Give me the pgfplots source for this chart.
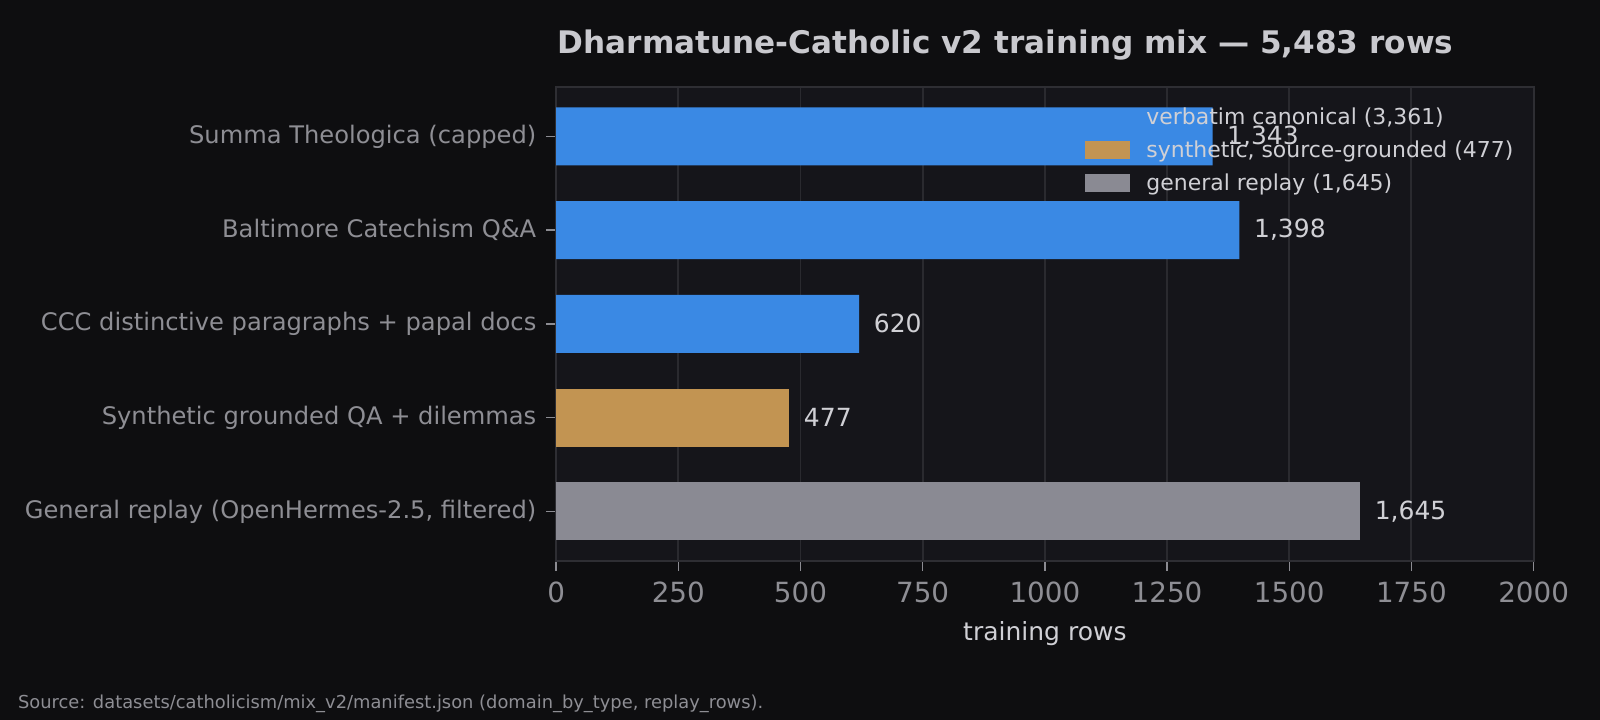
\documentclass[border=0pt]{standalone}
\usepackage{pgfplots}
\pgfplotsset{compat=1.18}
\usepackage{fontspec}
\setmainfont{DejaVu Sans}

\definecolor{figbg}{HTML}{0E0E10}
\definecolor{axbg}{HTML}{15151A}
\definecolor{gridc}{HTML}{2A2A2F}
\definecolor{spinec}{HTML}{2E2E33}
\definecolor{tickc}{HTML}{8C8C92}
\definecolor{ticklab}{HTML}{8E8E94}
\definecolor{valc}{HTML}{D0D0D5}
\definecolor{titlec}{HTML}{C9C9CE}
\definecolor{verbatim}{HTML}{3A89E4}
\definecolor{synth}{HTML}{C29452}
\definecolor{replay}{HTML}{8A8A93}

\begin{document}
\begin{tikzpicture}
% canvas
\useasboundingbox (0pt,0pt) rectangle (576pt,259.2pt);
\fill[figbg] (0pt,0pt) rectangle (576pt,259.2pt);

\begin{axis}[
  at={(200.2pt,57.2pt)}, anchor=south west,
  scale only axis, width=351.9pt, height=170.8pt,
  xbar, bar width=0.62, bar shift=0pt,
  xmin=0, xmax=2000,
  ymin=-0.53, ymax=4.53, y dir=reverse,
  axis background/.style={fill=axbg},
  axis line style={draw=spinec, line width=0.7pt},
  xmajorgrids, major grid style={draw=gridc, line width=0.7pt},
  tick pos=left, tick align=outside,
  major tick length=3.6pt,
  every tick/.style={draw=tickc, line width=0.5pt},
  xtick={0,250,...,2000},
  ytick={0,1,2,3,4},
  yticklabels={Summa Theologica (capped),Baltimore Catechism Q\&A,CCC distinctive paragraphs + papal docs,Synthetic grounded QA + dilemmas,General replay (OpenHermes-2.5{,} filtered)},
  /pgf/number format/assume math mode=true,
  /pgf/number format/1000 sep={,},
  xticklabel={\pgfmathprintnumber[1000 sep={}]{\tick}},
  xticklabel style={font=\fontsize{10}{12}\selectfont, text=ticklab, yshift=-0.4pt},
  yticklabel style={font=\fontsize{8.7}{10.5}\selectfont, text=ticklab},
  xlabel={training rows},
  xlabel style={font=\fontsize{9}{11}\selectfont, text=valc, at={(axis description cs:0.5,0)}, anchor=center, yshift=-26.2pt},
  point meta=x,
  nodes near coords,
  every node near coord/.append style={font=\fontsize{9}{11}\selectfont, text=valc, anchor=west, inner sep=0pt, xshift=5.1pt},
  legend cell align=left,
  legend image code/.code={\fill[#1] (0pt,-2.6pt) rectangle (16.5pt,4.0pt); \path (22.3pt,0pt);},
  legend style={at={(axis description cs:0.54,0.957)}, anchor=north west, draw=none, fill=none,
    inner sep=0pt, row sep=3.9pt,
    font=\fontsize{7.9}{10}\selectfont, text=valc,
    nodes={inner sep=0pt, text height=6pt, text depth=2pt}},
]
\addplot[fill=verbatim, draw=none] coordinates {(1343,0) (1398,1) (620,2)};
\addlegendentry{verbatim canonical (3,361)}
\addplot[fill=synth, draw=none] coordinates {(477,3)};
\addlegendentry{synthetic, source-grounded (477)}
\addplot[fill=replay, draw=none] coordinates {(1645,4)};
\addlegendentry{general replay (1,645)}
\end{axis}

% title and source line
\node[anchor=west, inner sep=0pt, text=titlec, font=\fontsize{11.2}{13}\selectfont\bfseries] at (200.6pt,243.1pt) {Dharmatune-Catholic v2 training mix — 5,483 rows};
\node[anchor=west, inner sep=0pt, text=ticklab, font=\fontsize{6.43}{8}\selectfont] at (6.3pt,5.8pt) {Source: datasets/catholicism/mix\_v2/manifest.json (domain\_by\_type, replay\_rows).};
\end{tikzpicture}
\end{document}
